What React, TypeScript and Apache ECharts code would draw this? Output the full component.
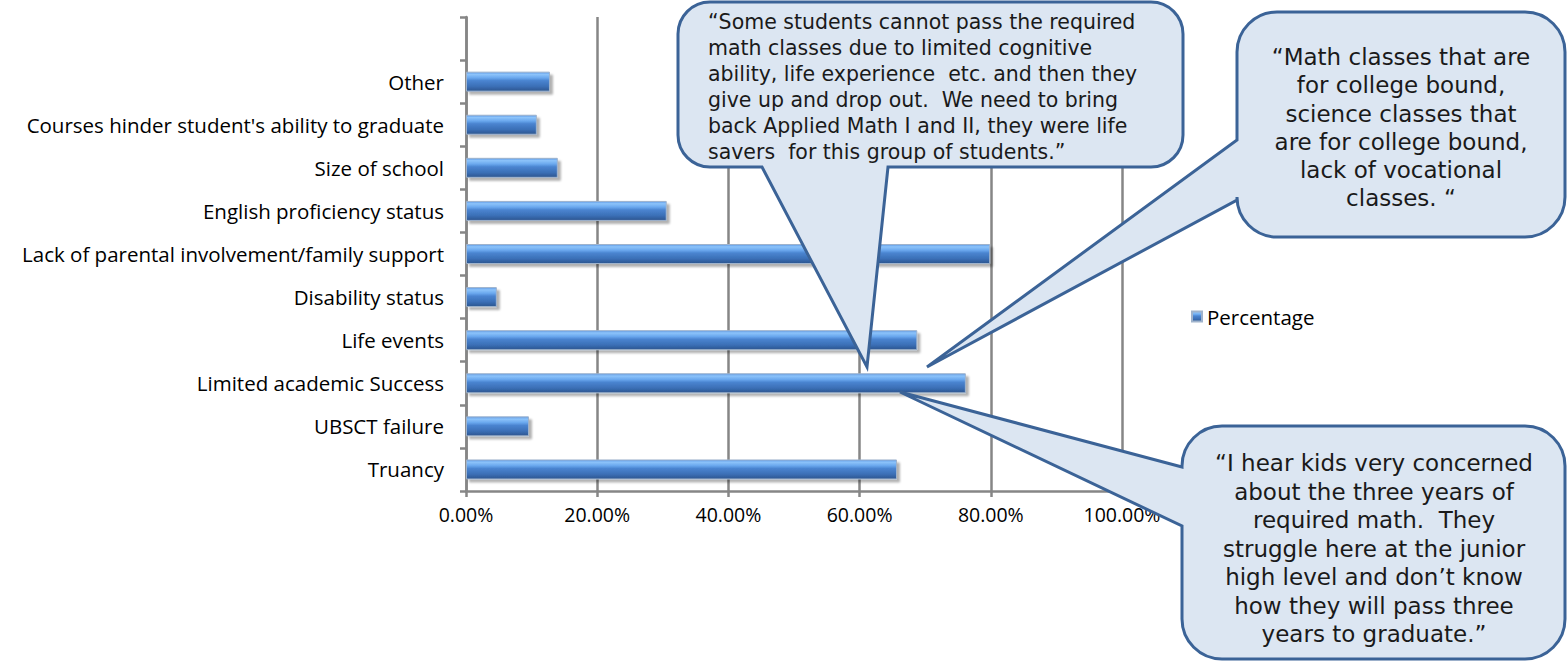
import React, { useEffect, useRef } from "react";
import * as echarts from "echarts";

const categories = [
  "Truancy",
  "UBSCT failure",
  "Limited academic Success",
  "Life events",
  "Disability status",
  "Lack of parental involvement/family support",
  "English proficiency status",
  "Size of school",
  "Courses hinder student's ability to graduate",
  "Other",
  "",
];
const percentages = [65.7, 9.6, 76.2, 68.8, 4.7, 79.9, 30.6, 14.0, 10.8, 12.8, 0];
const seriesName = "Percentage";

const quote1 = [
  "“Some students cannot pass the required",
  "math classes due to limited cognitive",
  "ability, life experience  etc. and then they",
  "give up and drop out.  We need to bring",
  "back Applied Math I and II, they were life",
  "savers  for this group of students.”",
];
const quote2 = [
  "“Math classes that are",
  "for college bound,",
  "science classes that",
  "are for college bound,",
  "lack of vocational",
  "classes. “",
];
const quote3 = [
  "“I hear kids very concerned",
  "about the three years of",
  "required math.  They",
  "struggle here at the junior",
  "high level and don’t know",
  "how they will pass three",
  "years to graduate.”",
];

const FONT = "'Open Sans', Lato, sans-serif";
const QFONT = "'DejaVu Sans', 'Open Sans', sans-serif";

export default function App() {
  const ref = useRef<HTMLDivElement>(null);
  useEffect(() => {
    if (!ref.current) return;
    const k = 0.5523;
    const corner = (r: number) => r * (1 - k);
    {
      const x0 = 678, y0 = 2, x1 = 1183, y1 = 167, r = 32, c = corner(r);
      const d =
        `M ${x0 + r} ${y0} L ${x1 - r} ${y0} C ${x1 - c} ${y0} ${x1} ${y0 + c} ${x1} ${y0 + r} ` +
        `L ${x1} ${y1 - r} C ${x1} ${y1 - c} ${x1 - c} ${y1} ${x1 - r} ${y1} ` +
        `L 888 ${y1} L 867 367 L 762 ${y1} ` +
        `L ${x0 + r} ${y1} C ${x0 + c} ${y1} ${x0} ${y1 - c} ${x0} ${y1 - r} ` +
        `L ${x0} ${y0 + r} C ${x0} ${y0 + c} ${x0 + c} ${y0} ${x0 + r} ${y0} Z`;
      echarts.graphic.registerShape("callout1", echarts.graphic.extendPath(d, {}));
    }
    {
      const x0 = 1237, y0 = 12, x1 = 1565, y1 = 237, r = 40, c = corner(r);
      const d =
        `M ${x0 + r} ${y0} L ${x1 - r} ${y0} C ${x1 - c} ${y0} ${x1} ${y0 + c} ${x1} ${y0 + r} ` +
        `L ${x1} ${y1 - r} C ${x1} ${y1 - c} ${x1 - c} ${y1} ${x1 - r} ${y1} ` +
        `L ${x0 + r} ${y1} C ${x0 + c} ${y1} ${x0} ${y1 - c} ${x0} ${y1 - r} ` +
        `L ${x0} 200 L 927 367 L ${x0} 140 ` +
        `L ${x0} ${y0 + r} C ${x0} ${y0 + c} ${x0 + c} ${y0} ${x0 + r} ${y0} Z`;
      echarts.graphic.registerShape("callout2", echarts.graphic.extendPath(d, {}));
    }
    {
      const x0 = 1182, y0 = 426, x1 = 1565, y1 = 659, r = 40, c = corner(r);
      const d =
        `M ${x0 + r} ${y0} L ${x1 - r} ${y0} C ${x1 - c} ${y0} ${x1} ${y0 + c} ${x1} ${y0 + r} ` +
        `L ${x1} ${y1 - r} C ${x1} ${y1 - c} ${x1 - c} ${y1} ${x1 - r} ${y1} ` +
        `L ${x0 + r} ${y1} C ${x0 + c} ${y1} ${x0} ${y1 - c} ${x0} ${y1 - r} ` +
        `L ${x0} 526 L 900 392 L ${x0} 467 ` +
        `L ${x0} ${y0 + r} C ${x0} ${y0 + c} ${x0 + c} ${y0} ${x0 + r} ${y0} Z`;
      echarts.graphic.registerShape("callout3", echarts.graphic.extendPath(d, {}));
    }

    const chart = echarts.init(ref.current, null, { renderer: "svg" });
    const calloutStyle = { fill: "#dce6f2", stroke: "#3b6397", lineWidth: 3 };
    const textStyle = { fontFamily: QFONT, fill: "#1a1a1a" };

    chart.setOption({
      animation: false,
      backgroundColor: "#ffffff",
      grid: { left: 466, top: 17, width: 656, height: 474, containLabel: false },
      legend: {
        show: true,
        left: 1186,
        top: 301,
        orient: "vertical",
        itemWidth: 10,
        itemHeight: 10,
        itemGap: 6,
        icon: "rect",
        textStyle: { fontFamily: FONT, fontSize: 20.5, color: "#000" },
        data: [seriesName],
      },
      xAxis: {
        type: "value",
        min: 0,
        max: 100,
        interval: 20,
        axisLine: { show: true, lineStyle: { color: "#868686", width: 2.5 } },
        axisTick: { show: true, length: 6, lineStyle: { color: "#868686", width: 2.5 } },
        splitLine: { show: true, lineStyle: { color: "#868686", width: 2.5 } },
        axisLabel: {
          formatter: (v: number) => v.toFixed(2) + "%",
          fontFamily: FONT,
          fontSize: 19.5,
          color: "#000",
          margin: 13,
        },
      },
      yAxis: {
        type: "category",
        data: categories,
        axisLine: { show: true, lineStyle: { color: "#868686", width: 2.5 } },
        axisTick: { show: true, length: 6, alignWithLabel: false, lineStyle: { color: "#868686", width: 2.5 } },
        axisLabel: { fontFamily: FONT, fontSize: 20.5, color: "#000", margin: 22 },
      },
      series: [
        {
          name: seriesName,
          type: "bar",
          data: percentages,
          barWidth: 20,
          itemStyle: {
            color: new echarts.graphic.LinearGradient(0, 0, 0, 1, [
              { offset: 0, color: "#5f9ae6" },
              { offset: 0.12, color: "#8cc3fa" },
              { offset: 0.3, color: "#6aa8ee" },
              { offset: 0.45, color: "#4a84d0" },
              { offset: 0.75, color: "#3b6fb6" },
              { offset: 1, color: "#2c558f" },
            ]),
            borderColor: "#9fb3cc",
            borderWidth: 1,
            shadowColor: "rgba(0,0,0,0.3)",
            shadowOffsetX: 3,
            shadowOffsetY: 3,
            shadowBlur: 2,
          },
        },
      ],
      graphic: [
        { type: "callout1", z: 100, x: 0, y: 0, style: calloutStyle },
        { type: "callout2", z: 100, x: 0, y: 0, style: calloutStyle },
        { type: "callout3", z: 100, x: 0, y: 0, style: calloutStyle },
        {
          type: "text", z: 101, x: 708, y: 9,
          style: { ...textStyle, fontSize: 20.5, text: quote1.join("\n"), align: "left", verticalAlign: "top", lineHeight: 26 },
        },
        {
          type: "text", z: 101, x: 1401, y: 43,
          style: { ...textStyle, fontSize: 23, text: quote2.join("\n"), align: "center", verticalAlign: "top", lineHeight: 28.2 },
        },
        {
          type: "text", z: 101, x: 1374, y: 449,
          style: { ...textStyle, fontSize: 23, text: quote3.join("\n"), align: "center", verticalAlign: "top", lineHeight: 28.5 },
        },
      ],
    });
    return () => chart.dispose();
  }, []);
  return (
    <div
      ref={ref}
      style={{ position: "absolute", left: 0, top: 0, width: 1567, height: 662 }}
    />
  );
}
